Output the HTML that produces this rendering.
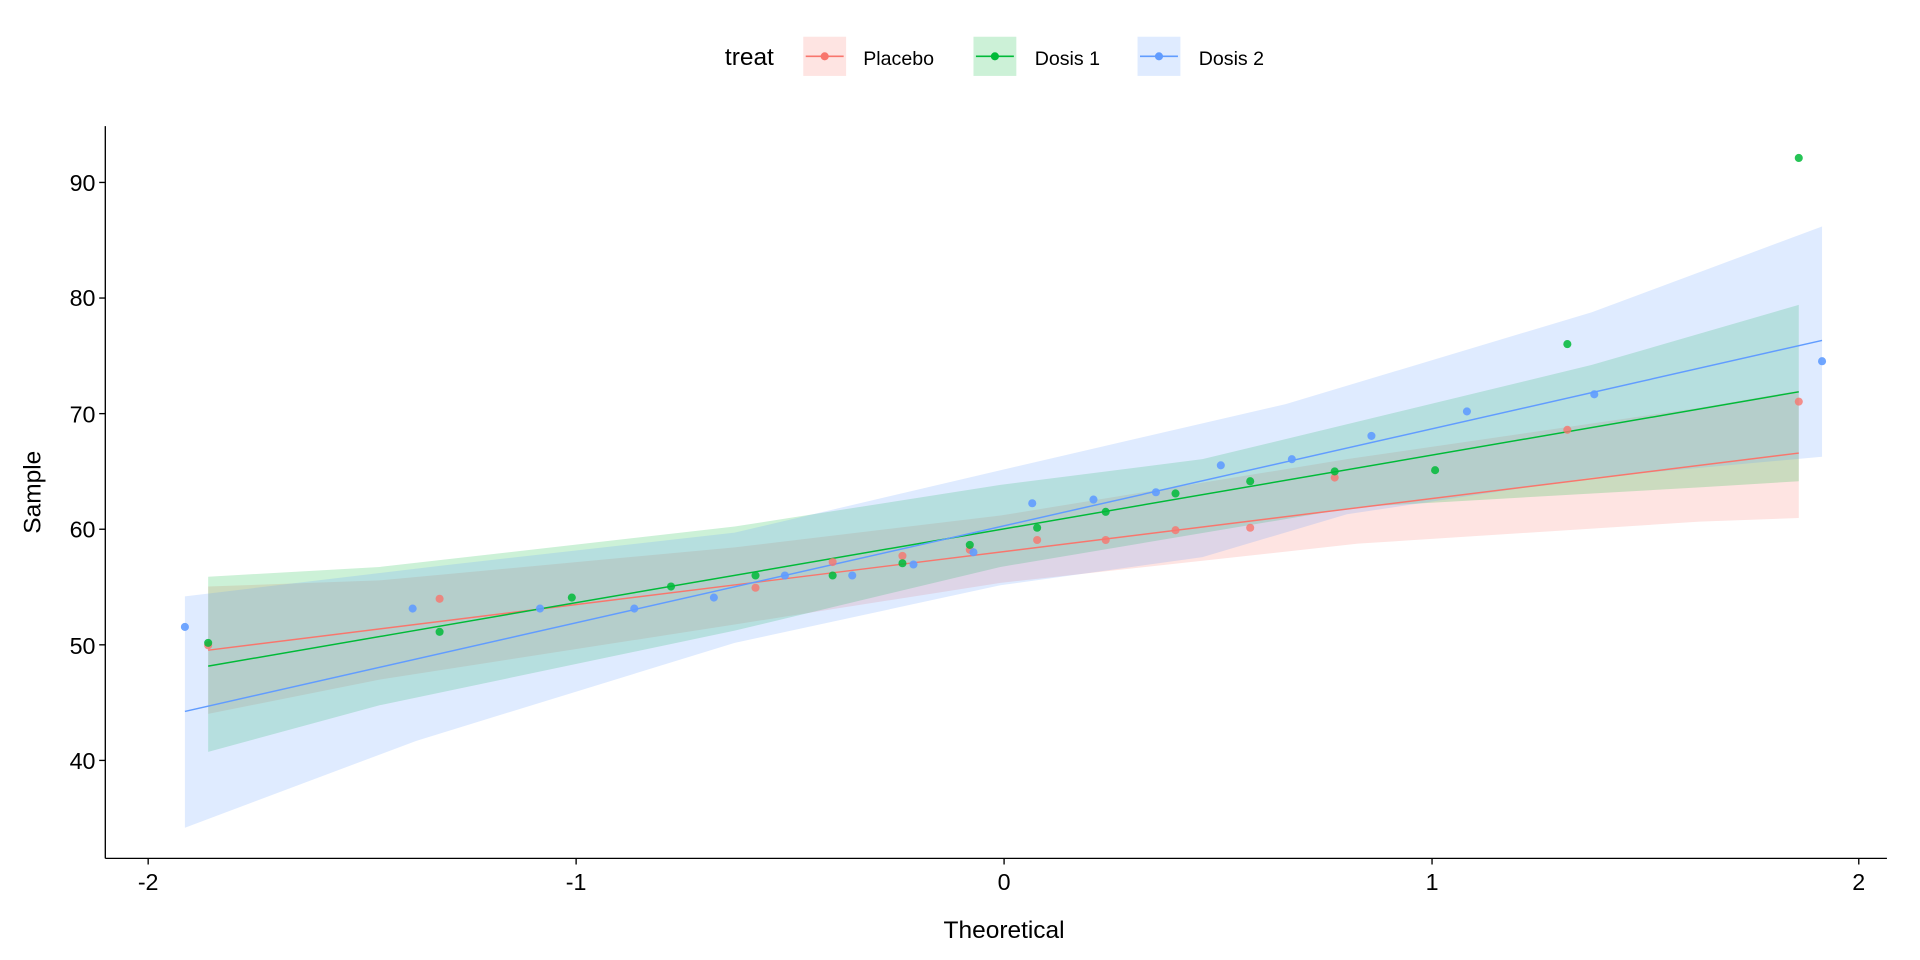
<!DOCTYPE html>
<html><head><meta charset="utf-8"><style>
html,body{margin:0;padding:0;background:#fff;}
svg{display:block;}
text{font-family:"Liberation Sans",Arial,sans-serif;}
</style></head><body>
<svg width="1920" height="960" viewBox="0 0 1568 784" xmlns="http://www.w3.org/2000/svg">
<rect width="1568" height="784" fill="#fff"/>
<!-- bands -->
<polygon fill="#F8766D" fill-opacity="0.2" points="170,479 310,474 600,447 817,421 1100,375 1388,333 1469,319 1469,423 1388,426 1109,444 817,476 600,510 310,555 170,583"/>
<polygon fill="#00BA38" fill-opacity="0.2" points="170,471 310,463 600,430 817,396 982,375 1300,298 1469,249 1469,393 1388,398 1109,414 817,463 600,515 310,576 170,614"/>
<polygon fill="#619CFF" fill-opacity="0.2" points="151,487 360,462 600,435 817,384 1050,330 1300,255 1488,185 1488,373 1300,390 1100,420 982,455 817,478 600,525 340,605 151,676"/>
<!-- lines -->
<line x1="170" y1="531" x2="1469" y2="370" stroke="#F8766D" stroke-width="1.2"/>
<line x1="170" y1="544" x2="1469" y2="320" stroke="#00BA38" stroke-width="1.2"/>
<line x1="151" y1="581" x2="1488" y2="278" stroke="#619CFF" stroke-width="1.2"/>
<!-- points -->
<g fill="#F8766D" fill-opacity="0.8">
<circle cx="170" cy="527" r="3.3"/><circle cx="359" cy="489" r="3.3"/><circle cx="617" cy="480" r="3.3"/><circle cx="680" cy="459" r="3.3"/><circle cx="737" cy="454" r="3.3"/><circle cx="792" cy="449" r="3.3"/><circle cx="847" cy="441" r="3.3"/><circle cx="903" cy="441" r="3.3"/><circle cx="960" cy="433" r="3.3"/><circle cx="1021" cy="431" r="3.3"/><circle cx="1090" cy="390" r="3.3"/><circle cx="1280" cy="351" r="3.3"/><circle cx="1469" cy="328" r="3.3"/>
</g>
<g fill="#00BA38" fill-opacity="0.85">
<circle cx="170" cy="525" r="3.3"/><circle cx="359" cy="516" r="3.3"/><circle cx="467" cy="488" r="3.3"/><circle cx="548" cy="479" r="3.3"/><circle cx="617" cy="470" r="3.3"/><circle cx="680" cy="470" r="3.3"/><circle cx="737" cy="460" r="3.3"/><circle cx="792" cy="445" r="3.3"/><circle cx="847" cy="431" r="3.3"/><circle cx="903" cy="418" r="3.3"/><circle cx="960" cy="403" r="3.3"/><circle cx="1021" cy="393" r="3.3"/><circle cx="1090" cy="385" r="3.3"/><circle cx="1172" cy="384" r="3.3"/><circle cx="1280" cy="281" r="3.3"/><circle cx="1469" cy="129" r="3.3"/>
</g>
<g fill="#619CFF" fill-opacity="0.9">
<circle cx="151" cy="512" r="3.3"/><circle cx="337" cy="497" r="3.3"/><circle cx="441" cy="497" r="3.3"/><circle cx="518" cy="497" r="3.3"/><circle cx="583" cy="488" r="3.3"/><circle cx="641" cy="470" r="3.3"/><circle cx="696" cy="470" r="3.3"/><circle cx="746" cy="461" r="3.3"/><circle cx="795" cy="451" r="3.3"/><circle cx="843" cy="411" r="3.3"/><circle cx="893" cy="408" r="3.3"/><circle cx="944" cy="402" r="3.3"/><circle cx="997" cy="380" r="3.3"/><circle cx="1055" cy="375" r="3.3"/><circle cx="1120" cy="356" r="3.3"/><circle cx="1198" cy="336" r="3.3"/><circle cx="1302" cy="322" r="3.3"/><circle cx="1488" cy="295" r="3.3"/>
</g>
<!-- axes -->
<g stroke="#000" stroke-width="1.1">
<line x1="86" y1="103" x2="86" y2="701"/>
<line x1="86" y1="701" x2="1541" y2="701"/>
<line x1="81" y1="149" x2="86" y2="149"/><line x1="81" y1="243.4" x2="86" y2="243.4"/><line x1="81" y1="337.8" x2="86" y2="337.8"/><line x1="81" y1="432.2" x2="86" y2="432.2"/><line x1="81" y1="526.6" x2="86" y2="526.6"/><line x1="81" y1="621" x2="86" y2="621"/>
<line x1="121" y1="701" x2="121" y2="706"/><line x1="470.5" y1="701" x2="470.5" y2="706"/><line x1="820" y1="701" x2="820" y2="706"/><line x1="1169.5" y1="701" x2="1169.5" y2="706"/><line x1="1518" y1="701" x2="1518" y2="706"/>
</g>
<g font-size="19" fill="#000" text-anchor="end">
<text x="78" y="156">90</text><text x="78" y="250">80</text><text x="78" y="345">70</text><text x="78" y="439">60</text><text x="78" y="534">50</text><text x="78" y="628">40</text>
</g>
<g font-size="19" fill="#000" text-anchor="middle">
<text x="121" y="727">-2</text><text x="470.5" y="727">-1</text><text x="820" y="727">0</text><text x="1169.5" y="727">1</text><text x="1518" y="727">2</text>
</g>
<text x="820" y="766" font-size="20" text-anchor="middle">Theoretical</text>
<text transform="translate(33,402) rotate(-90)" font-size="20" text-anchor="middle">Sample</text>
<!-- legend -->
<text x="592" y="53" font-size="20">treat</text>
<rect x="656" y="30" width="35" height="32" fill="#F8766D" fill-opacity="0.2"/>
<line x1="658" y1="46" x2="689" y2="46" stroke="#F8766D" stroke-width="1.3"/><circle cx="673.5" cy="46" r="3.3" fill="#F8766D"/>
<text x="705" y="53" font-size="16">Placebo</text>
<rect x="795" y="30" width="35" height="32" fill="#00BA38" fill-opacity="0.2"/>
<line x1="797" y1="46" x2="828" y2="46" stroke="#00BA38" stroke-width="1.3"/><circle cx="812.5" cy="46" r="3.3" fill="#00BA38"/>
<text x="845" y="53" font-size="16">Dosis 1</text>
<rect x="929" y="30" width="35" height="32" fill="#619CFF" fill-opacity="0.2"/>
<line x1="931" y1="46" x2="962" y2="46" stroke="#619CFF" stroke-width="1.3"/><circle cx="946.5" cy="46" r="3.3" fill="#619CFF"/>
<text x="979" y="53" font-size="16">Dosis 2</text>
</svg>
</body></html>
